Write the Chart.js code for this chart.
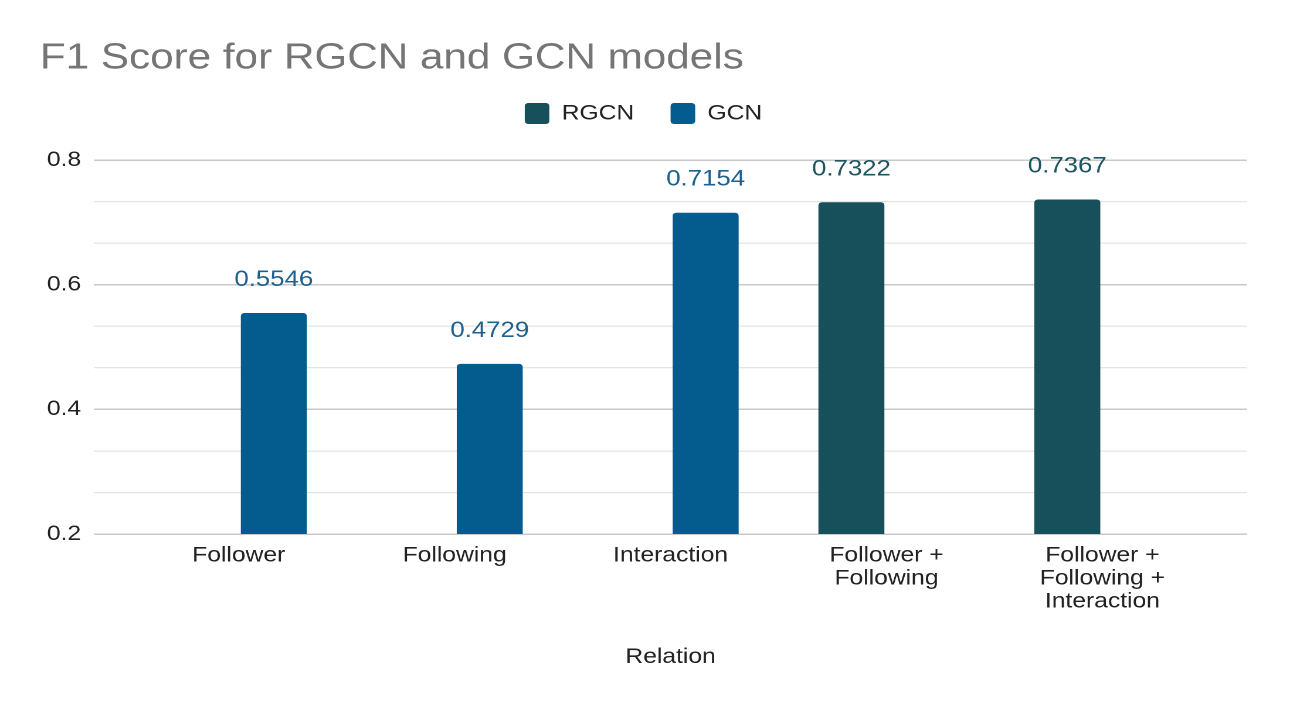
<!DOCTYPE html>
<html>
<head>
<meta charset="utf-8">
<title>F1 Score for RGCN and GCN models</title>
<script src="https://cdn.jsdelivr.net/npm/chart.js@4.4.1/dist/chart.umd.min.js"></script>
<style>
  html, body { margin: 0; padding: 0; background: #fff; }
</style>
</head>
<body>
<!-- the source picture is a little stretched sideways, so the canvas is too -->
<canvas id="chart" width="1100" height="702" style="display:block;width:1290px;height:702px"></canvas>
<script>
const categories = [
  'Follower',
  'Following',
  'Interaction',
  ['Follower +', 'Following'],
  ['Follower +', 'Following +', 'Interaction']
];
const rgcnValues = [null, null, null, 0.7322, 0.7367];
const gcnValues = [0.5546, 0.4729, 0.7154, null, null];
const yTickLabels = ['0.2', '0.4', '0.6', '0.8'];
const minorSteps = 3; // light gridlines between labelled ones

const FONT = '"Liberation Sans", Arial, sans-serif';

// bars sit on a linear x axis so the plot can keep some room left and right
function toPoints(values) {
  return values
    .map((v, i) => ({ x: i, y: v }))
    .filter(p => p.y !== null);
}

const yMin = parseFloat(yTickLabels[0]);
const yMax = parseFloat(yTickLabels[yTickLabels.length - 1]);
const yStep = (parseFloat(yTickLabels[1]) - yMin) / minorSteps;

const valueLabels = {
  id: 'valueLabels',
  afterDatasetsDraw(chart) {
    const ctx = chart.ctx;
    ctx.save();
    ctx.font = '22px ' + FONT;
    ctx.textAlign = 'center';
    ctx.textBaseline = 'alphabetic';
    chart.data.datasets.forEach((ds, i) => {
      ctx.fillStyle = ds.labelColor;
      chart.getDatasetMeta(i).data.forEach((bar, j) => {
        ctx.fillText(ds.data[j].y.toFixed(4), bar.x, bar.y - 27);
      });
    });
    ctx.restore();
  }
};

// extra room between the legend and the plot
const legendSpacer = {
  id: 'legendSpacer',
  beforeInit(chart) {
    const fit = chart.legend.fit;
    chart.legend.fit = function () {
      fit.call(this);
      this.height += 26;
    };
  }
};

new Chart(document.getElementById('chart'), {
  type: 'bar',
  data: {
    datasets: [{
      label: 'RGCN',
      data: toPoints(rgcnValues),
      backgroundColor: '#174f5a',
      labelColor: '#1d5560',
      borderRadius: 3
    }, {
      label: 'GCN',
      data: toPoints(gcnValues),
      backgroundColor: '#035b8e',
      labelColor: '#1e6191',
      borderRadius: 3
    }]
  },
  options: {
    responsive: false,
    animation: false,
    devicePixelRatio: 2,
    categoryPercentage: 0.65,
    barPercentage: 0.94,
    layout: { padding: { left: 34, right: 36.6, top: 0, bottom: 32.4 } },
    plugins: {
      title: {
        display: true,
        text: 'F1 Score for RGCN and GCN models',
        align: 'start',
        color: '#757575',
        font: { family: FONT, size: 36, weight: 'normal', lineHeight: 1 },
        padding: { top: 40.5, bottom: -4.5 }
      },
      legend: {
        position: 'top',
        labels: {
          boxWidth: 21,
          boxHeight: 21,
          useBorderRadius: true,
          borderRadius: 3,
          padding: 31,
          color: '#222',
          font: { family: FONT, size: 21 }
        }
      },
      tooltip: { enabled: false }
    },
    scales: {
      x: {
        type: 'linear',
        offset: false,
        min: -0.67,
        max: categories.length - 1 + 0.67,
        afterBuildTicks(axis) {
          axis.ticks = categories.map((_, i) => ({ value: i }));
        },
        grid: { display: false, drawTicks: false },
        border: { display: false },
        ticks: {
          autoSkip: false,
          maxRotation: 0,
          padding: 10,
          color: '#222',
          font: { family: FONT, size: 21, lineHeight: 23 / 21 },
          callback: (value) => categories[value]
        },
        title: {
          display: true,
          text: 'Relation',
          color: '#222',
          font: { family: FONT, size: 21 },
          padding: { top: 21.4, bottom: 0 }
        }
      },
      y: {
        min: yMin,
        max: yMax,
        afterBuildTicks(axis) {
          const ticks = [];
          const count = (yTickLabels.length - 1) * minorSteps;
          for (let k = 0; k <= count; k++) ticks.push({ value: yMin + k * yStep });
          axis.ticks = ticks;
        },
        afterFit(axis) { axis.width = 46.2; },
        border: { display: false },
        grid: {
          drawTicks: false,
          color: (c) => c.index % minorSteps === 0 ? '#c9c9c9' : '#e4e4e4',
          lineWidth: (c) => c.index % minorSteps === 0 ? 1.5 : 1.2
        },
        ticks: {
          padding: 11,
          color: '#222',
          font: { family: FONT, size: 21 },
          callback: (value, index) => index % minorSteps === 0 ? yTickLabels[index / minorSteps] : ''
        }
      }
    }
  },
  plugins: [valueLabels, legendSpacer]
});
</script>
</body>
</html>
